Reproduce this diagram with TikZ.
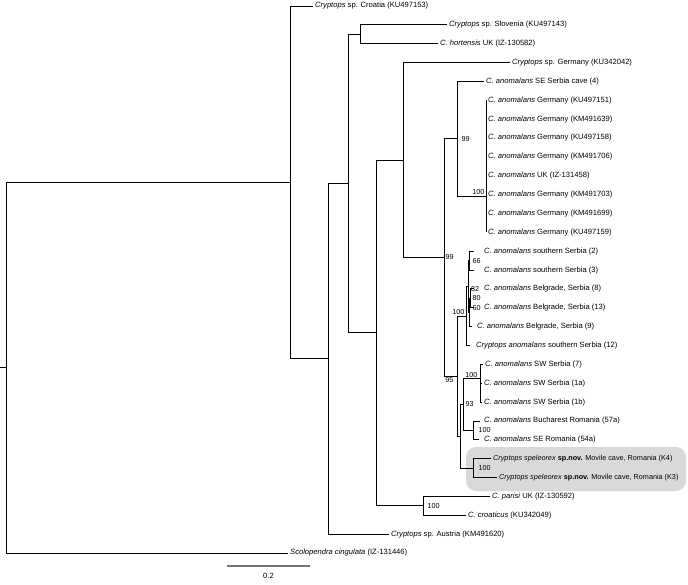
\documentclass[tikz,border=0pt]{standalone}
\usepackage{fontspec}
\setmainfont{Liberation Sans}
\usetikzlibrary{calc,positioning}
\tikzset{
  branch/.style={draw, line width=0.9pt},
  taxon/.style={anchor=west, inner sep=2pt, font=\fontsize{7.6}{9}\selectfont},
  newsp/.style={taxon, font=\fontsize{7.25}{9}\selectfont},
  boot/.style={inner sep=0.5pt, font=\fontsize{7.2}{8}\selectfont},
  novbox/.style={fill=black!15, rounded corners=10pt},
  scalebar/.style={draw=black!55, line width=1.3pt},
}

\begin{document}
\begin{tikzpicture}[x=1pt,y=-1pt]
\useasboundingbox (0,0) rectangle (688,584);

% the new species
\fill[novbox] (466,447) rectangle (686,491);

% internal nodes
\coordinate (stub) at (0,367.7);
\coordinate (root) at (6,367.7);
\coordinate (A) at (290,182.4);
\coordinate (B) at (328,358.9);
\coordinate (C) at (348,183.6);
\coordinate (D) at (360,34.3);
\coordinate (E) at (376,332.9);
\coordinate (F) at (403,160.0);
\coordinate (G) at (423,505.9);
\coordinate (H) at (444,257.5);
\coordinate (I) at (457,138.7);
\coordinate (J) at (486,196.0);
\coordinate (P) at (457,376.2);
\coordinate (N) at (466,316.0);
\coordinate (X) at (468,286.6);
\coordinate (V) at (469,260.6);
\coordinate (Y) at (469,312.5);
\coordinate (Z) at (470,298.4);
\coordinate (Q) at (460,436.3);
\coordinate (R) at (463,404.5);
\coordinate (T) at (480,378.5);
\coordinate (U) at (473,430.4);
\coordinate (S) at (473,468.1);

% taxa
\node[taxon] (croatia) at (313,6.0) {\textit{Cryptops} sp. Croatia (KU497153)};
\node[taxon] (slovenia) at (447,24.86) {\textit{Cryptops} sp. Slovenia (KU497143)};
\node[taxon] (hortensis) at (438,43.72) {\textit{C. hortensis} UK (IZ-130582)};
\node[taxon] (germany) at (510,62.59) {\textit{Cryptops} sp. Germany (KU342042)};
\node[taxon] (secave) at (484,81.45) {\textit{C. anomalans} SE Serbia cave (4)};
\node[taxon] (ger1) at (486,100.31) {\textit{C. anomalans} Germany (KU497151)};
\node[taxon] (ger2) at (486,119.17) {\textit{C. anomalans} Germany (KM491639)};
\node[taxon] (ger3) at (486,138.03) {\textit{C. anomalans} Germany (KU497158)};
\node[taxon] (ger4) at (486,156.90) {\textit{C. anomalans} Germany (KM491706)};
\node[taxon] (ukan) at (486,175.76) {\textit{C. anomalans} UK (IZ-131458)};
\node[taxon] (ger5) at (486,194.62) {\textit{C. anomalans} Germany (KM491703)};
\node[taxon] (ger6) at (486,213.48) {\textit{C. anomalans} Germany (KM491699)};
\node[taxon] (ger7) at (486,232.34) {\textit{C. anomalans} Germany (KU497159)};
\node[taxon] (sser2) at (482,251.21) {\textit{C. anomalans} southern Serbia (2)};
\node[taxon] (sser3) at (482,270.07) {\textit{C. anomalans} southern Serbia (3)};
\node[taxon] (bel8) at (482,288.93) {\textit{C. anomalans} Belgrade, Serbia (8)};
\node[taxon] (bel13) at (482,307.79) {\textit{C. anomalans} Belgrade, Serbia (13)};
\node[taxon] (bel9) at (475,326.65) {\textit{C. anomalans} Belgrade, Serbia (9)};
\node[taxon] (sser12) at (474,345.52) {\textit{Cryptops anomalans} southern Serbia (12)};
\node[taxon] (sw7) at (483,364.38) {\textit{C. anomalans} SW Serbia (7)};
\node[taxon] (sw1a) at (482,383.24) {\textit{C. anomalans} SW Serbia (1a)};
\node[taxon] (sw1b) at (482,402.10) {\textit{C. anomalans} SW Serbia (1b)};
\node[taxon] (buch) at (482,420.97) {\textit{C. anomalans} Bucharest Romania (57a)};
\node[taxon] (serom) at (482,439.83) {\textit{C. anomalans} SE Romania (54a)};
\node[newsp] (k4) at (491,458.69) {\textit{Cryptops speleorex} \textbf{sp.nov.} Movile cave, Romania (K4)};
\node[newsp] (k3) at (497,477.55) {\textit{Cryptops speleorex} \textbf{sp.nov.} Movile cave, Romania (K3)};
\node[taxon] (parisi) at (490,496.41) {\textit{C. parisi} UK (IZ-130592)};
\node[taxon] (croaticus) at (466,515.28) {\textit{C. croaticus} (KU342049)};
\node[taxon] (austria) at (389,534.14) {\textit{Cryptops} sp. Austria (KM491620)};
\node[taxon] (scolo) at (288,553.0) {\textit{Scolopendra cingulata} (IZ-131446)};

% branches
\draw[branch] (stub) -- (root);
\draw[branch] (root) |- (A);
\draw[branch] (root) |- (scolo.west);
\draw[branch] (A) |- (croatia.west);
\draw[branch] (A) |- (B);
\draw[branch] (B) |- (C);
\draw[branch] (B) |- (austria.west);
\draw[branch] (C) |- (D);
\draw[branch] (C) |- (E);
\draw[branch] (D) |- (slovenia.west);
\draw[branch] (D) |- (hortensis.west);
\draw[branch] (E) |- (F);
\draw[branch] (E) |- (G);
\draw[branch] (G) |- (parisi.west);
\draw[branch] (G) |- (croaticus.west);
\draw[branch] (F) |- (germany.west);
\draw[branch] (F) |- (H);
\draw[branch] (H) |- (I);
\draw[branch] (H) |- (P);
\draw[branch] (I) |- (secave.west);
\draw[branch] (I) |- (J);
\foreach \t in {ger1,ger2,ger3,ger4,ukan,ger5,ger6,ger7}
  \draw[branch] (J) |- (\t.west);
\draw[branch] (P) |- (N);
\draw[branch] (P) |- (Q);
\draw[branch] (N) |- (X);
\draw[branch, shorten >=4pt] (N) |- (sser12.west);
\draw[branch] (X) |- (V);
\draw[branch] (X) |- (Y);
\draw[branch, shorten >=8pt] (V) |- (sser2.west);
\draw[branch, shorten >=8pt] (V) |- (sser3.west);
\draw[branch] (Y) |- (Z);
\draw[branch, shorten >=3pt] (Y) |- (bel9.west);
\draw[branch, shorten >=8pt] (Z) |- (bel8.west);
\draw[branch, shorten >=8pt] (Z) |- (bel13.west);
\draw[branch] (Q) |- (R);
\draw[branch] (Q) |- (S);
\draw[branch] (R) |- (T);
\draw[branch] (R) |- (U);
\foreach \t in {sw7,sw1a,sw1b}
  \draw[branch] (T) |- (\t.west);
\draw[branch, shorten >=2pt] (U) |- (buch.west);
\draw[branch, shorten >=3pt] (U) |- (serom.west);
\draw[branch] (S) |- (k4.west);
\draw[branch] (S) |- (k3.west);

% bootstrap values
\node[boot, right=1pt of H] (bsH) {99};
\node[boot, right=4pt of I] (bsI) {99};
\node[boot, above left=0.5pt and 1pt of J] (bsJ) {100};
\node[boot, right=3pt of V] (bsV) {66};
\node[boot, right=2.5pt of X, yshift=-2pt] (bsX) {82};
\node[boot, right=2pt of Z] (bsZ) {80};
\node[boot, right=3pt of Y, yshift=4.5pt] (bsY) {60};
\node[boot, above left=0.5pt and 1pt of N] (bsN) {100};
\node[boot, below left=1pt and 3pt of P] (bsP) {95};
\node[boot, above left=0.5pt and 2pt of T] (bsT) {100};
\node[boot, right=2pt of R] (bsR) {93};
\node[boot, right=5pt of U] (bsU) {100};
\node[boot, right=5pt of S] (bsS) {100};
\node[boot, right=4pt of G] (bsG) {100};

% scale
\coordinate (sb0) at (227,566);
\coordinate (sb1) at (310,566);
\draw[scalebar] (sb0) -- (sb1) node[midway, below=5pt, taxon, anchor=north] (sblab) {0.2};
\end{tikzpicture}
\end{document}
